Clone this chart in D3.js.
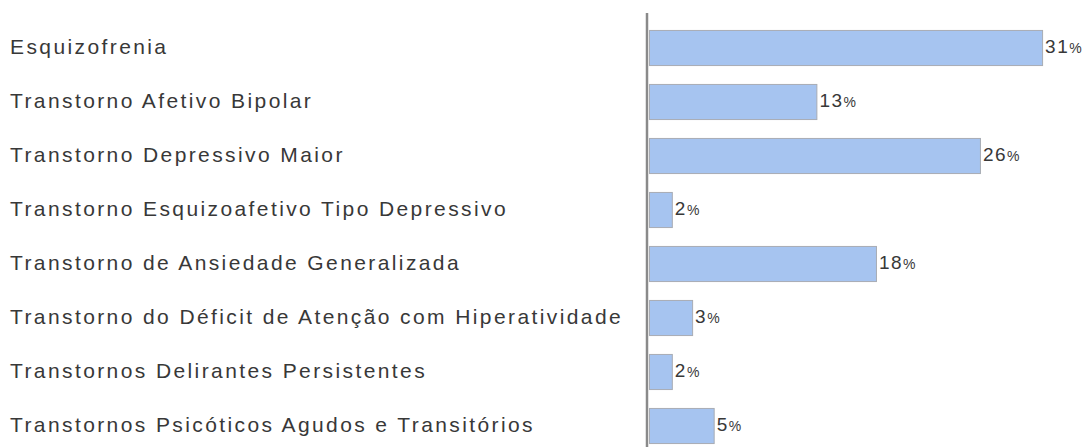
<!DOCTYPE html>
<html>
<head>
<meta charset="utf-8">
<script src="https://cdn.jsdelivr.net/npm/d3@7"></script>
<style>
  body { margin: 0; background: #fff; }
  svg { display: block; }
  text { font-family: "Liberation Sans", Arial, sans-serif; fill: #383838; }
</style>
</head>
<body>
<div id="chart"></div>
<script>
// data
var categories = [
    "Esquizofrenia",
    "Transtorno Afetivo Bipolar",
    "Transtorno Depressivo Maior",
    "Transtorno Esquizoafetivo Tipo Depressivo",
    "Transtorno de Ansiedade Generalizada",
    "Transtorno do Déficit de Atenção com Hiperatividade",
    "Transtornos Delirantes Persistentes",
    "Transtornos Psicóticos Agudos e Transitórios"
];
var values = [31.0, 13.2, 26.1, 1.8, 17.9, 3.4, 1.8, 5.1];
var valueLabels = ["31", "13", "26", "2", "18", "3", "2", "5"];

var width = 1090, height = 447;

var svg = d3.select("#chart").append("svg")
    .attr("width", width)
    .attr("height", height);

var y = d3.scaleBand()
    .domain(categories)
    .range([20.5, 452.5])
    .paddingInner(0.35)
    .paddingOuter(0.175);

var x = d3.scaleLinear()
    .domain([0, 100])
    .range([649, 649 + 1268]);

// category labels
svg.selectAll("text.cat")
    .data(categories)
    .enter().append("text")
    .attr("class", "cat")
    .attr("x", 10)
    .attr("y", function (d) { return y(d) + y.bandwidth() / 2; })
    .attr("dy", "0.31em")
    .style("font-size", "21px")
    .style("letter-spacing", "2.4px")
    .text(function (d) { return d; });

// bars
svg.selectAll("rect.bar")
    .data(values)
    .enter().append("rect")
    .attr("class", "bar")
    .attr("x", x(0) + 0.5)
    .attr("y", function (d, i) { return y(categories[i]) + 0.5; })
    .attr("width", function (d) { return x(d) - x(0); })
    .attr("height", y.bandwidth())
    .attr("fill", "#a6c4f0")
    .attr("stroke", "#a8acb4")
    .attr("stroke-width", 1);

// value labels
var vl = svg.selectAll("text.val")
    .data(values)
    .enter().append("text")
    .attr("class", "val")
    .attr("x", function (d) { return x(d) + 3; })
    .attr("y", function (d, i) { return y(categories[i]) + y.bandwidth() / 2; })
    .attr("dy", "0.29em")
    .style("font-size", "19px")
    .style("letter-spacing", "1.5px");
vl.append("tspan").text(function (d, i) { return valueLabels[i]; });
vl.append("tspan").style("font-size", "14px").text("%");

// axis line
svg.append("line")
    .attr("x1", 647).attr("x2", 647)
    .attr("y1", 13).attr("y2", height)
    .attr("stroke", "#8a8a8a")
    .attr("stroke-width", 2.5);
</script>
</body>
</html>
